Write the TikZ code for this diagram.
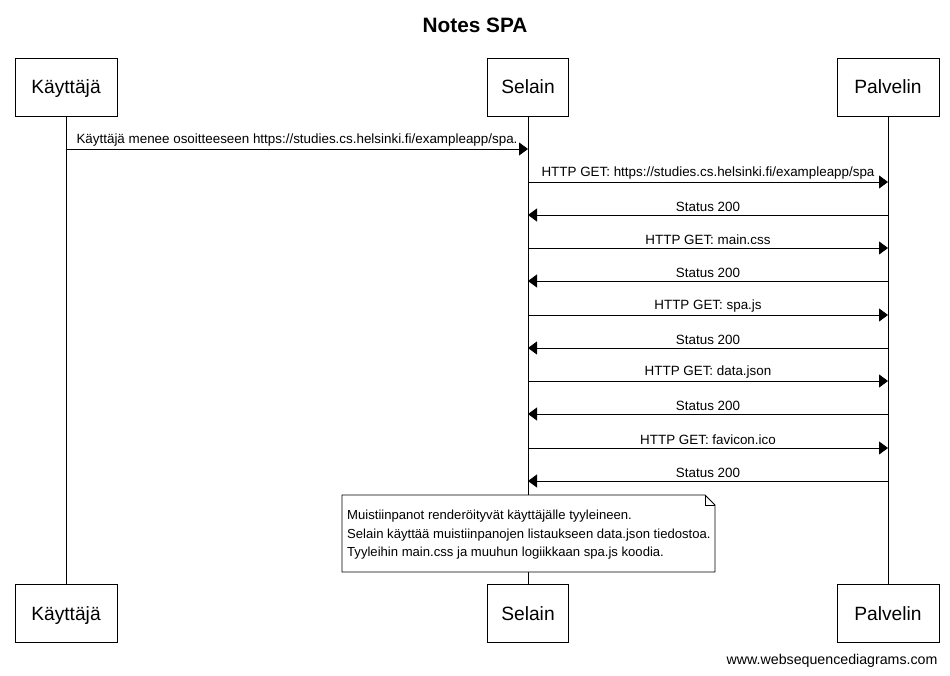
\documentclass[tikz,border=0pt]{standalone}
\usepackage{fontspec}
\setmainfont{Liberation Sans}
\usetikzlibrary{arrows.meta}
\tikzset{actor/.style={draw, line width=0.8pt, minimum width=102pt, minimum height=58pt, text height=14pt, text depth=0pt, font=\fontsize{19.2}{23}\selectfont},
         msg/.style={line width=0.8pt, -{Triangle[length=9pt, width=13pt]}},
         lbl/.style={midway, above, inner sep=2.5pt, font=\fontsize{13.4}{16}\selectfont}}

\begin{document}
\begin{tikzpicture}[x=1pt, y=-1pt]
\useasboundingbox (0,0) rectangle (950,676);

\node[font=\bfseries\fontsize{20.8}{25}\selectfont] (title) at (475,25) {Notes SPA};

% Participants, top and bottom row
\node[actor]                     (kt) at ( 66,87)  {Käyttäjä};
\node[actor, minimum width=81pt] (st) at (528,87)  {Selain};
\node[actor]                     (pt) at (888,87)  {Palvelin};
\node[actor]                     (kb) at ( 66,613) {Käyttäjä};
\node[actor, minimum width=81pt] (sb) at (528,613) {Selain};
\node[actor]                     (pb) at (888,613) {Palvelin};

% Lifelines
\draw[line width=0.8pt] (kt.south) -- (kb.north);
\draw[line width=0.8pt] (st.south) -- (sb.north);
\draw[line width=0.8pt] (pt.south) -- (pb.north);

% Messages
\draw[msg] (kt.south |- 0,149) -- (st.south |- 0,149) node[lbl] {Käyttäjä menee osoitteeseen https://studies.cs.helsinki.fi/exampleapp/spa.};
\draw[msg] (st.south |- 0,182) -- (pt.south |- 0,182) node[lbl] {HTTP GET: https://studies.cs.helsinki.fi/exampleapp/spa};
\draw[msg] (pt.south |- 0,215) -- (st.south |- 0,215) node[lbl] {Status 200};
\draw[msg] (st.south |- 0,248) -- (pt.south |- 0,248) node[lbl] {HTTP GET: main.css};
\draw[msg] (pt.south |- 0,281) -- (st.south |- 0,281) node[lbl] {Status 200};
\draw[msg] (st.south |- 0,315) -- (pt.south |- 0,315) node[lbl] {HTTP GET: spa.js};
\draw[msg] (pt.south |- 0,348) -- (st.south |- 0,348) node[lbl] {Status 200};
\draw[msg] (st.south |- 0,381) -- (pt.south |- 0,381) node[lbl] {HTTP GET: data.json};
\draw[msg] (pt.south |- 0,414) -- (st.south |- 0,414) node[lbl] {Status 200};
\draw[msg] (st.south |- 0,448) -- (pt.south |- 0,448) node[lbl] {HTTP GET: favicon.ico};
\draw[msg] (pt.south |- 0,481) -- (st.south |- 0,481) node[lbl] {Status 200};

% Note with folded corner
\filldraw[fill=white, line width=0.8pt] (342,495) -- (705,495) -- (715,505) -- (715,572) -- (342,572) -- cycle;
\draw[line width=0.6pt] (705,495) -- (705,505) -- (715,505);
\node[anchor=north west, align=left, inner sep=0pt, font=\fontsize{13.1}{18.5}\selectfont] (note) at (347,510)
  {Muistiinpanot renderöityvät käyttäjälle tyyleineen.\\
   Selain käyttää muistiinpanojen listaukseen data.json tiedostoa.\\
   Tyyleihin main.css ja muuhun logiikkaan spa.js koodia.};

\node[anchor=east, font=\fontsize{14.2}{17}\selectfont] (wsd) at (941,661) {www.websequencediagrams.com};
\end{tikzpicture}
\end{document}
